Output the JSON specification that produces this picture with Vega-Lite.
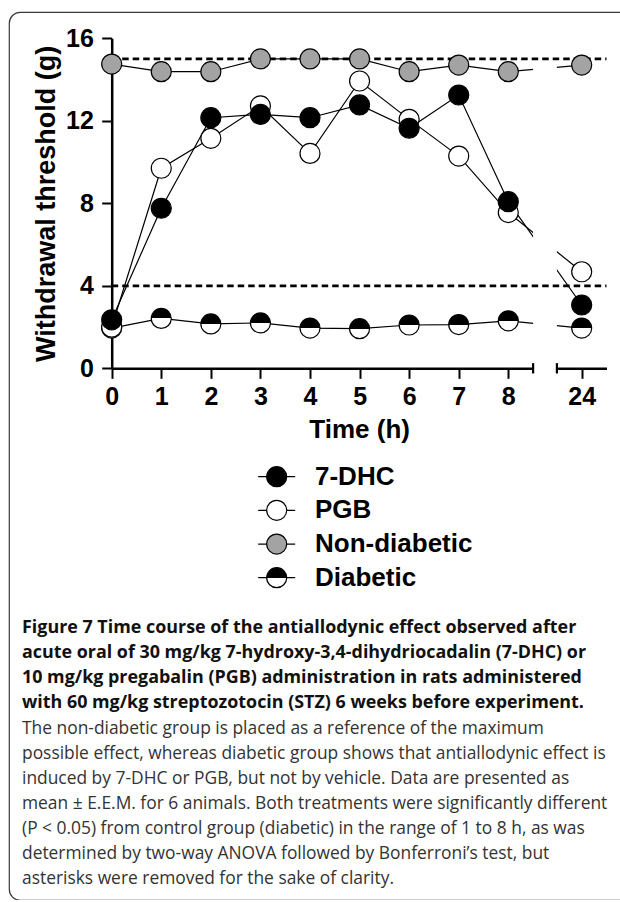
{
  "$schema": "https://vega.github.io/schema/vega-lite/v6.json",
  "autosize": {"type": "none"},
  "padding": {"left": 9, "top": 12, "right": 0, "bottom": 0},
  "width": 660,
  "height": 888,
  "background": "white",
  "config": {
    "view": {"stroke": "#3a3a3a", "strokeWidth": 1.2, "cornerRadius": 11},
    "axis": {
      "grid": false,
      "domainColor": "black",
      "domainWidth": 2.5,
      "tickColor": "black",
      "tickWidth": 2,
      "tickSize": 10,
      "labelColor": "black",
      "labelFont": "Liberation Sans Narrow, Liberation Sans",
      "labelFontSize": 25,
      "labelFontWeight": "bold",
      "titleColor": "black",
      "titleFont": "Liberation Sans",
      "titleFontWeight": "bold",
      "labelOverlap": false,
      "labelFlush": false
    }
  },
  "title": {
    "text": [
      "Figure 7 Time course of the antiallodynic effect observed after",
      "acute oral of 30 mg/kg 7-hydroxy-3,4-dihydriocadalin (7-DHC) or",
      "10 mg/kg pregabalin (PGB) administration in rats administered",
      "with 60 mg/kg streptozotocin (STZ) 6 weeks before experiment."
    ],
    "subtitle": [
      "The non-diabetic group is placed as a reference of the maximum",
      "possible effect, whereas diabetic group shows that antiallodynic effect is",
      "induced by 7-DHC or PGB, but not by vehicle. Data are presented as",
      "mean ± E.E.M. for 6 animals. Both treatments were significantly different",
      "(P < 0.05) from control group (diabetic) in the range of 1 to 8 h, as was",
      "determined by two-way ANOVA followed by Bonferroni’s test, but",
      "asterisks were removed for the sake of clarity."
    ],
    "orient": "bottom",
    "anchor": "start",
    "frame": "group",
    "offset": -281,
    "dx": 13,
    "font": "Open Sans",
    "fontSize": 17.9,
    "fontWeight": "bold",
    "color": "#111111",
    "lineHeight": 25.1,
    "subtitleFont": "Open Sans",
    "subtitleFontSize": 17.4,
    "subtitleFontWeight": "normal",
    "subtitleColor": "#333333",
    "subtitleLineHeight": 25.1,
    "subtitlePadding": 7.3
  },
  "datasets": {
    "main": [
      {"time": 0, "series": "Non-diabetic", "threshold": 14.75},
      {"time": 1, "series": "Non-diabetic", "threshold": 14.38},
      {"time": 2, "series": "Non-diabetic", "threshold": 14.38},
      {"time": 3, "series": "Non-diabetic", "threshold": 15.0},
      {"time": 4, "series": "Non-diabetic", "threshold": 15.0},
      {"time": 5, "series": "Non-diabetic", "threshold": 15.0},
      {"time": 6, "series": "Non-diabetic", "threshold": 14.38},
      {"time": 7, "series": "Non-diabetic", "threshold": 14.7},
      {"time": 8, "series": "Non-diabetic", "threshold": 14.38},
      {"time": 24, "series": "Non-diabetic", "threshold": 14.7},
      {"time": 0, "series": "Diabetic", "threshold": 1.95},
      {"time": 1, "series": "Diabetic", "threshold": 2.42},
      {"time": 2, "series": "Diabetic", "threshold": 2.15},
      {"time": 3, "series": "Diabetic", "threshold": 2.2},
      {"time": 4, "series": "Diabetic", "threshold": 1.95},
      {"time": 5, "series": "Diabetic", "threshold": 1.92},
      {"time": 6, "series": "Diabetic", "threshold": 2.1},
      {"time": 7, "series": "Diabetic", "threshold": 2.12},
      {"time": 8, "series": "Diabetic", "threshold": 2.3},
      {"time": 24, "series": "Diabetic", "threshold": 1.95},
      {"time": 0, "series": "PGB", "threshold": 2.0},
      {"time": 1, "series": "PGB", "threshold": 9.7},
      {"time": 2, "series": "PGB", "threshold": 11.15},
      {"time": 3, "series": "PGB", "threshold": 12.72},
      {"time": 4, "series": "PGB", "threshold": 10.42},
      {"time": 5, "series": "PGB", "threshold": 13.93},
      {"time": 6, "series": "PGB", "threshold": 12.07},
      {"time": 7, "series": "PGB", "threshold": 10.29},
      {"time": 8, "series": "PGB", "threshold": 7.55},
      {"time": 24, "series": "PGB", "threshold": 4.68},
      {"time": 0, "series": "7-DHC", "threshold": 2.35},
      {"time": 1, "series": "7-DHC", "threshold": 7.76},
      {"time": 2, "series": "7-DHC", "threshold": 12.15},
      {"time": 3, "series": "7-DHC", "threshold": 12.31},
      {"time": 4, "series": "7-DHC", "threshold": 12.15},
      {"time": 5, "series": "7-DHC", "threshold": 12.77},
      {"time": 6, "series": "7-DHC", "threshold": 11.64},
      {"time": 7, "series": "7-DHC", "threshold": 13.25},
      {"time": 8, "series": "7-DHC", "threshold": 8.08},
      {"time": 24, "series": "7-DHC", "threshold": 3.07}
    ]
  },
  "resolve": {"scale": {"y": "independent"}},
  "layer": [
    {
      "layer": [
        {
          "data": {"name": "main"},
          "mark": {"type": "line", "color": "black", "strokeWidth": 1.2},
          "encoding": {
            "x": {
              "field": "time",
              "type": "quantitative",
              "scale": {"domain": [0, 8.5, 23.5, 24.5], "range": [102.7, 524.1, 547.9, 597.5], "nice": false, "zero": false},
              "axis": {
                "orient": "bottom",
                "offset": -531.7,
                "values": [0, 1, 2, 3, 4, 5, 6, 7, 8, 24],
                "format": "d",
                "labelPadding": 6.5,
                "title": "Time (h)",
                "titleFontSize": 26,
                "titlePadding": 7
              }
            },
            "y": {
              "field": "threshold",
              "type": "quantitative",
              "scale": {"domain": [0, 16], "range": [356.3, 26.3], "nice": false, "zero": false},
              "axis": {
                "orient": "left",
                "offset": -102.7,
                "values": [0, 4, 8, 12, 16],
                "format": "d",
                "labelPadding": 8.4,
                "title": "Withdrawal threshold (g)",
                "titleFontSize": 27,
                "titlePadding": 5
              }
            },
            "detail": {"field": "series", "type": "nominal"}
          }
        },
        {
          "data": {"values": [{}]},
          "mark": {"type": "rect", "color": "white"},
          "encoding": {
            "x": {"datum": 8.5, "type": "quantitative"},
            "x2": {"datum": 23.5},
            "y": {"datum": -0.4, "type": "quantitative"},
            "y2": {"datum": 16}
          }
        },
        {
          "data": {"values": [{"ref": 4}, {"ref": 15}]},
          "mark": {"type": "rule", "color": "black", "strokeWidth": 2.8, "strokeDash": [6.5, 4]},
          "encoding": {
            "y": {"field": "ref", "type": "quantitative"},
            "x": {"datum": 0, "type": "quantitative"},
            "x2": {"datum": 24.5}
          }
        },
        {
          "data": {"values": [{}]},
          "mark": {"type": "rule", "color": "black", "strokeWidth": 2.2},
          "encoding": {
            "x": {"datum": 8.5, "type": "quantitative"},
            "y": {"datum": -0.25, "type": "quantitative"},
            "y2": {"datum": 0.25}
          }
        },
        {
          "data": {"values": [{}]},
          "mark": {"type": "rule", "color": "black", "strokeWidth": 2.2},
          "encoding": {
            "x": {"datum": 23.5, "type": "quantitative"},
            "y": {"datum": -0.25, "type": "quantitative"},
            "y2": {"datum": 0.25}
          }
        },
        {
          "data": {"name": "main"},
          "mark": {"type": "point", "shape": "circle", "size": 400, "filled": true, "stroke": "black", "strokeWidth": 1.2, "opacity": 1},
          "encoding": {
            "x": {"field": "time", "type": "quantitative"},
            "y": {"field": "threshold", "type": "quantitative"},
            "fill": {
              "condition": {
                "test": "datum.series === 'Diabetic'",
                "value": {"gradient": "linear", "x1": 0, "y1": 0, "x2": 0, "y2": 1, "stops": [{"offset": 0, "color": "black"}, {"offset": 0.5, "color": "black"}, {"offset": 0.5, "color": "white"}, {"offset": 1, "color": "white"}]}
              },
              "field": "series",
              "type": "nominal",
              "scale": {"domain": ["7-DHC", "PGB", "Non-diabetic", "Diabetic"], "range": ["black", "white", "#a3a3a3", "black"]},
              "legend": null
            }
          }
        }
      ]
    },
    {
      "data": {"name": "main"},
      "transform": [{"aggregate": [], "groupby": ["series"]}],
      "encoding": {
        "x": {"datum": 3.328, "type": "quantitative"},
        "y": {
          "field": "series",
          "type": "nominal",
          "scale": {"domain": ["7-DHC", "PGB", "Non-diabetic", "Diabetic"], "range": [464.7, 565.7], "padding": 0},
          "axis": null
        }
      },
      "layer": [
        {
          "mark": {"type": "point", "shape": "M-1.85,0L1.85,0", "size": 400, "filled": false, "stroke": "black", "strokeWidth": 1.2, "opacity": 1}
        },
        {
          "mark": {"type": "point", "shape": "circle", "size": 400, "filled": true, "stroke": "black", "strokeWidth": 1.2, "opacity": 1},
          "encoding": {
            "fill": {
              "condition": {
                "test": "datum.series === 'Diabetic'",
                "value": {"gradient": "linear", "x1": 0, "y1": 0, "x2": 0, "y2": 1, "stops": [{"offset": 0, "color": "black"}, {"offset": 0.5, "color": "black"}, {"offset": 0.5, "color": "white"}, {"offset": 1, "color": "white"}]}
              },
              "field": "series",
              "type": "nominal",
              "legend": null
            }
          }
        },
        {
          "mark": {"type": "text", "align": "left", "baseline": "middle", "dx": 38.3, "font": "Liberation Sans", "fontSize": 26, "fontWeight": "bold", "color": "black"},
          "encoding": {"text": {"field": "series", "type": "nominal"}}
        }
      ]
    }
  ]
}
